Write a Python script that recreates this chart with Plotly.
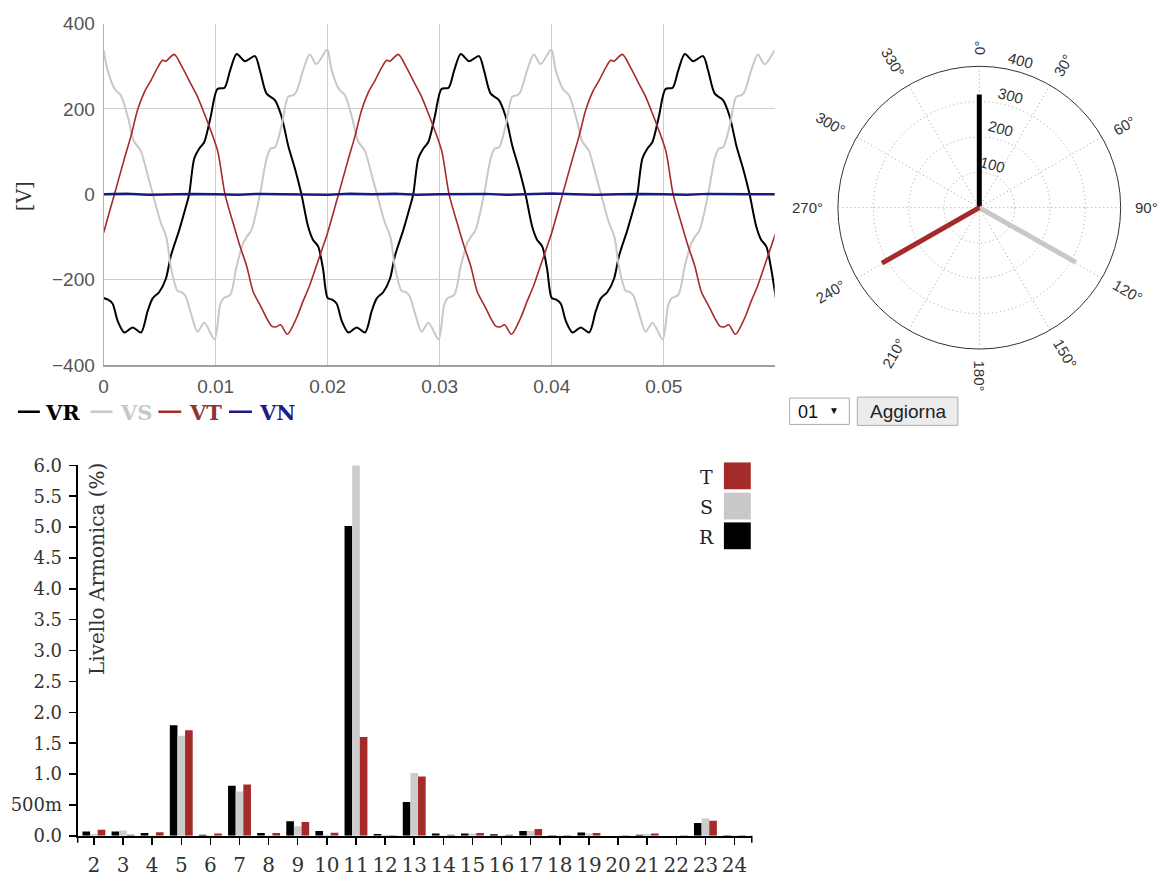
import math
import plotly.graph_objects as go

W, H = 1163, 881


def fx(px):
    return px / W


def fy(py):
    return 1 - py / H


# ---------------- Waveforms: time [ms] and voltage [V] ----------------
VR_T_MS = [0.00, 0.40, 0.80, 1.26, 1.86, 2.60, 3.34, 3.93, 4.38, 4.97, 5.56, 6.00, 6.75, 7.34, 7.64, 8.09, 8.53, 8.98,
           9.57, 10.16, 10.80, 11.29, 11.88, 12.62, 13.51, 13.96, 14.55, 15.29, 15.88, 16.48, 17.07, 17.66, 18.26,
           18.70, 19.15, 19.59,
           20.00, 20.40, 20.80, 21.26, 21.86, 22.60, 23.34, 23.93, 24.38, 24.97, 25.56, 26.00, 26.75, 27.34, 27.64,
           28.09, 28.53, 28.98, 29.57, 30.16, 30.80, 31.29, 31.88, 32.62, 33.51, 33.96, 34.55, 35.29, 35.88, 36.48,
           37.07, 37.66, 38.26, 38.70, 39.15, 39.59,
           40.00, 40.40, 40.80, 41.26, 41.86, 42.60, 43.34, 43.93, 44.38, 44.97, 45.56, 46.00, 46.75, 47.34, 47.64,
           48.09, 48.53, 48.98, 49.57, 50.16, 50.80, 51.29, 51.88, 52.62, 53.51, 53.96, 54.55, 55.29, 55.88, 56.48,
           57.07, 57.66, 58.26, 58.70, 59.15, 59.59, 60.00]
VR_V = [-243, -247, -256, -297, -324, -312, -324, -274, -244, -229, -198, -145, -84, -30, 0, 84, 107, 122,
        183, 247, 250, 290, 329, 312, 324, 290, 236, 221, 183, 114, 61, 0, -76, -107, -122, -175,
        -243, -247, -256, -297, -324, -312, -324, -274, -244, -229, -198, -145, -84, -30, 0, 84, 107, 122,
        183, 247, 250, 290, 329, 312, 324, 290, 236, 221, 183, 114, 61, 0, -76, -107, -122, -175,
        -243, -247, -256, -297, -324, -312, -324, -274, -244, -229, -198, -145, -84, -30, 0, 84, 107, 122,
        183, 247, 250, 290, 329, 312, 324, 290, 236, 221, 183, 114, 61, 0, -76, -107, -122, -175, -243]

VS_T_MS = [0.00, 0.37, 1.00, 1.54, 2.20, 2.70, 3.30, 3.90, 4.40, 5.10, 5.60, 6.00, 6.60, 7.00, 7.30, 7.80, 8.38,
           9.00, 9.90, 10.40, 10.70, 11.30, 11.88, 12.47, 12.80, 13.20, 13.96, 14.55, 14.90, 15.30, 15.88, 16.48,
           16.90, 17.20, 17.80, 18.40, 19.00, 19.88,
           20.00, 20.37, 21.00, 21.54, 22.20, 22.70, 23.30, 23.90, 24.40, 25.10, 25.60, 26.00, 26.60, 27.00, 27.30,
           27.80, 28.38, 29.00, 29.90, 30.40, 30.70, 31.30, 31.88, 32.47, 32.80, 33.20, 33.96, 34.55, 34.90, 35.30,
           35.88, 36.48, 36.90, 37.20, 37.80, 38.40, 39.00, 39.88,
           40.00, 40.37, 41.00, 41.54, 42.20, 42.70, 43.30, 43.90, 44.40, 45.10, 45.60, 46.00, 46.60, 47.00, 47.30,
           47.80, 48.38, 49.00, 49.90, 50.40, 50.70, 51.30, 51.88, 52.47, 52.80, 53.20, 53.96, 54.55, 54.90, 55.30,
           55.88, 56.48, 56.90, 57.20, 57.80, 58.40, 59.00, 59.88]
VS_V = [338, 290, 247, 232, 178, 125, 103, 49, 0, -66, -100, -170, -226, -230, -238, -279, -322,
        -301, -340, -259, -244, -236, -168, -114, -99, -84, 0, 84, 107, 110, 160, 229, 232, 240, 290, 328, 305, 338,
        338, 290, 247, 232, 178, 125, 103, 49, 0, -66, -100, -170, -226, -230, -238, -279, -322,
        -301, -340, -259, -244, -236, -168, -114, -99, -84, 0, 84, 107, 110, 160, 229, 232, 240, 290, 328, 305, 338,
        338, 290, 247, 232, 178, 125, 103, 49, 0, -66, -100, -170, -226, -230, -238, -279, -322,
        -301, -340, -259, -244, -236, -168, -114, -99, -84, 0, 84, 107, 110, 160, 229, 232, 240, 290, 328, 305, 338]

VT_T_MS = [0.00, 0.97, 1.86, 2.45, 3.04, 3.65, 4.23, 4.82, 5.27, 5.56, 6.30, 7.04, 7.79, 8.38, 8.98, 9.70, 10.20,
           10.84, 11.58, 12.18, 12.77, 13.36, 13.96, 14.55, 15.00, 15.40, 15.80, 16.40, 17.22, 17.80, 18.40, 18.99,
           19.59,
           20.00, 20.97, 21.86, 22.45, 23.04, 23.65, 24.23, 24.82, 25.27, 25.56, 26.30, 27.04, 27.79, 28.38, 28.98,
           29.70, 30.20, 30.84, 31.58, 32.18, 32.77, 33.36, 33.96, 34.55, 35.00, 35.40, 35.80, 36.40, 37.22, 37.80,
           38.40, 38.99, 39.59,
           40.00, 40.97, 41.86, 42.45, 43.04, 43.65, 44.23, 44.82, 45.27, 45.56, 46.30, 47.04, 47.79, 48.38, 48.98,
           49.70, 50.20, 50.84, 51.58, 52.18, 52.77, 53.36, 53.96, 54.55, 55.00, 55.40, 55.80, 56.40, 57.22, 57.80,
           58.40, 58.99, 59.59, 60.00]
VT_V = [-90, 0, 84, 137, 198, 240, 267, 297, 314, 312, 328, 297, 259, 229, 190, 140, 100,
        0, -69, -122, -168, -229, -259, -290, -309, -311, -306, -328, -290, -251, -213, -168, -122,
        -90, 0, 84, 137, 198, 240, 267, 297, 314, 312, 328, 297, 259, 229, 190, 140, 100,
        0, -69, -122, -168, -229, -259, -290, -309, -311, -306, -328, -290, -251, -213, -168, -122,
        -90, 0, 84, 137, 198, 240, 267, 297, 314, 312, 328, 297, 259, 229, 190, 140, 100,
        0, -69, -122, -168, -229, -259, -290, -309, -311, -306, -328, -290, -251, -213, -168, -122, -90]

VN_T_MS = [0, 2, 4, 6, 8, 10, 12, 14, 16, 18, 20, 22, 24, 26, 28, 30, 32, 34, 36, 38, 40, 42, 44, 46, 48, 50,
           52, 54, 56, 58, 60]
VN_V = [0, 1, -1, 0, 1, 0, -1, 1, 0, 0, -1, 1, 0, 1, -1, 0, 0, 1, -1, 0, 2, 0, -1, 0, 1, 0, -1, 1, 0, 0, 0]

TIME_TICKS = [0, 0.01, 0.02, 0.03, 0.04, 0.05]
TIME_LABELS = ["0", "0.01", "0.02", "0.03", "0.04", "0.05"]
VOLT_TICKS = [-400, -200, 0, 200, 400]

# ---------------- Phasors ----------------
PHASOR_NAMES = ["VR", "VS", "VT"]
PHASOR_MAG = [320, 314, 317]
PHASOR_ANG = [0, 119.5, 240.3]
RADIAL_TICKS = [100, 200, 300, 400]
ANGLE_TICKS = [0, 30, 60, 90, 120, 150, 180, 210, 240, 270, 300, 330]

# ---------------- Harmonic levels [%] ----------------
HARMONICS = list(range(2, 25))
LEVEL_R = [0.07, 0.07, 0.045, 1.79, 0.02, 0.81, 0.045, 0.235, 0.08, 5.02, 0.03, 0.55, 0.04, 0.04, 0.025,
           0.08, 0.01, 0.055, 0.0, 0.02, 0.0, 0.21, 0.01]
LEVEL_S = [0.03, 0.085, 0.01, 1.62, 0.01, 0.72, 0.01, 0.155, 0.02, 6.0, 0.02, 1.02, 0.01, 0.04, 0.01,
           0.08, 0.01, 0.04, 0.005, 0.03, 0.005, 0.28, 0.01]
LEVEL_T = [0.10, 0.02, 0.06, 1.71, 0.04, 0.83, 0.045, 0.225, 0.05, 1.60, 0.01, 0.96, 0.02, 0.045, 0.02,
           0.11, 0.01, 0.045, 0.01, 0.04, 0.01, 0.245, 0.01]
LEVEL_TICKS = [0.0, 0.5, 1.0, 1.5, 2.0, 2.5, 3.0, 3.5, 4.0, 4.5, 5.0, 5.5, 6.0]
LEVEL_LABELS = ["0.0", "500m", "1.0", "1.5", "2.0", "2.5", "3.0", "3.5", "4.0", "4.5", "5.0", "5.5", "6.0"]

# ---------------- Styles ----------------
C_R, C_S, C_T, C_N = "#000000", "#c8c8c8", "#a52a2a", "#1a1a80"
SANS = "Liberation Sans, Arial, sans-serif"
SERIF = "DejaVu Serif, serif"

fig = go.Figure()

# waveforms
for name, ts, vs, col, lw in [("VR", VR_T_MS, VR_V, C_R, 2.0),
                              ("VS", VS_T_MS, VS_V, C_S, 2.0),
                              ("VT", VT_T_MS, VT_V, C_T, 1.6)]:
    fig.add_trace(go.Scatter(x=[t / 1000 for t in ts], y=vs, name=name, mode="lines",
                             line=dict(color=col, width=lw, shape="spline", smoothing=0.8),
                             xaxis="x", yaxis="y", showlegend=False, hoverinfo="skip"))
fig.add_trace(go.Scatter(x=[t / 1000 for t in VN_T_MS], y=VN_V, name="VN", mode="lines",
                         line=dict(color=C_N, width=2.5), xaxis="x", yaxis="y",
                         showlegend=False, hoverinfo="skip"))

# phasor diagram
for name, mag, ang, col in zip(PHASOR_NAMES, PHASOR_MAG, PHASOR_ANG, [C_R, C_S, C_T]):
    fig.add_trace(go.Scatterpolar(r=[0, mag], theta=[0, ang], mode="lines", name=name,
                                  line=dict(color=col, width=5), showlegend=False, hoverinfo="skip"))

# harmonic bars
for name, vals, col in [("R", LEVEL_R, C_R), ("S", LEVEL_S, "#cccccc"), ("T", LEVEL_T, C_T)]:
    fig.add_trace(go.Bar(x=HARMONICS, y=vals, name=name, marker=dict(color=col, line=dict(width=0)),
                         xaxis="x2", yaxis="y2", showlegend=False, hoverinfo="skip"))

shapes = []
annotations = []


def seg(x0, y0, x1, y1, color, width):
    shapes.append(dict(type="line", xref="paper", yref="paper", x0=fx(x0), y0=fy(y0), x1=fx(x1), y1=fy(y1),
                       line=dict(color=color, width=width), layer="above"))


def rect(x0, y0, x1, y1, fill, line_color, line_width=1):
    shapes.append(dict(type="rect", xref="paper", yref="paper", x0=fx(x0), y0=fy(y0), x1=fx(x1), y1=fy(y1),
                       fillcolor=fill, line=dict(color=line_color, width=line_width), layer="above"))


def text(x, y, s, size, color, family, xanchor="center", yanchor="middle", angle=0):
    annotations.append(dict(x=fx(x), y=fy(y), xref="paper", yref="paper", text=s, showarrow=False,
                            font=dict(family=family, size=size, color=color), xanchor=xanchor,
                            yanchor=yanchor, textangle=angle, borderpad=0))


# waveform legend
for (x0, x1, tx), name, lcol, tcol in zip([(13, 35, 39), (86, 108, 114), (154, 177, 184), (225, 248, 254)],
                                          ["VR", "VS", "VT", "VN"],
                                          [C_R, C_S, C_T, C_N],
                                          ["#000000", "#c8c8c8", "#8e3434", "#1c1c8c"]):
    seg(x0, 411, x1, 411, lcol, 2.5)
    text(tx, 412, "<b>%s</b>" % name, 21, tcol, SERIF, xanchor="left")

# waveform y-axis title
text(19, 190, "[V]", 20, "#333333", SERIF, angle=-90)

# phasor diagram labels
CX, CY, R0 = 978.5, 201.7, 145
for a in ANGLE_TICKS:
    s = "%d°" % a
    w = 8.3 * len(str(a)) + 6
    rc = 157 + w / 2
    x = CX + rc * math.sin(math.radians(a))
    y = CY - rc * math.cos(math.radians(a))
    ang = a - 90 if a <= 180 else a - 270
    text(x, y, s, 15, "#333333", SANS, angle=ang)
for v, (x, y) in zip(RADIAL_TICKS, [(991.5, 157), (1000, 121), (1009.5, 87), (1020, 51)]):
    text(x, y, str(v), 15, "#333333", SANS, angle=15)

# selector and button under the phasor diagram
rect(788, 397, 848, 424, "#ffffff", "#a9a9a9")
text(795, 411, "01", 18, "#111111", SANS, xanchor="left")
text(833, 410, "▼", 10, "#111111", SANS)
rect(856, 396, 957, 425, "#ececec", "#acacac")
text(906.5, 411, "Aggiorna", 19, "#222222", SANS)

# bar chart legend
for (y0, name, col) in [(463, "T", C_T), (494, "S", "#c8c8c8"), (524.5, "R", C_R)]:
    rect(722, y0, 749, y0 + 27.5, col, col, 0)
    text(705, y0 + 14.5, name, 19, "#222222", SERIF)

# bar chart y-axis title
text(93, 463, "Livello Armonica (%)", 20, "#333333", SERIF, yanchor="top", angle=-90)

# outer ticks at the ends of the harmonic axis
seg(73, 846, 73, 853, "#000000", 1.5)
seg(750, 846, 750, 853, "#000000", 1.5)

fig.update_layout(
    width=W, height=H, margin=dict(l=0, r=0, t=0, b=0),
    paper_bgcolor="white", plot_bgcolor="white", showlegend=False,
    barmode="group", bargap=0.214, bargroupgap=0,
    xaxis=dict(domain=[fx(99), fx(773)], range=[0, 0.0599], tickvals=TIME_TICKS, ticktext=TIME_LABELS,
               showgrid=True, gridcolor="#cdcdcd", gridwidth=1, zeroline=False,
               showline=True, linecolor="#a0a0a0", linewidth=2, ticks="", ticklabelstandoff=3,
               tickfont=dict(family=SANS, size=19, color="#555555"), anchor="y", fixedrange=True),
    yaxis=dict(domain=[fy(363), fy(13)], range=[-400, 400], tickvals=VOLT_TICKS,
               showgrid=True, gridcolor="#cdcdcd", gridwidth=1, zeroline=False,
               showline=True, linecolor="#b0b0b0", linewidth=1, ticks="", ticklabelstandoff=4,
               tickfont=dict(family=SANS, size=19, color="#555555"), anchor="x", fixedrange=True),
    xaxis2=dict(domain=[fx(73), fx(750)], range=[1.443, 24.592], tickvals=HARMONICS,
                ticktext=[str(h) for h in HARMONICS], showgrid=False, zeroline=False,
                showline=True, linecolor="#000000", linewidth=2, ticks="outside", ticklen=7,
                tickwidth=1.5, tickcolor="#000000", ticklabelstandoff=3,
                tickfont=dict(family=SERIF, size=20, color="#333333"), anchor="y2", fixedrange=True),
    yaxis2=dict(domain=[fy(846), fy(466)], range=[0, 6.0], tickvals=LEVEL_TICKS, ticktext=LEVEL_LABELS,
                showgrid=False, zeroline=False, showline=True, linecolor="#000000", linewidth=2,
                ticks="outside", ticklen=7, tickwidth=1.5, tickcolor="#000000", ticklabelstandoff=3,
                tickfont=dict(family=SERIF, size=18, color="#333333"), anchor="x2", fixedrange=True),
    polar=dict(
        domain=dict(x=[fx(CX - R0), fx(CX + R0)], y=[fy(CY + R0), fy(CY - R0)]),
        bgcolor="white",
        radialaxis=dict(range=[0, 400], tickvals=RADIAL_TICKS[:-1], showticklabels=False, ticks="",
                        showline=False, gridcolor="#a0a0a0", griddash="1px,3px", gridwidth=1),
        angularaxis=dict(rotation=90, direction="clockwise", tickvals=ANGLE_TICKS, showticklabels=False,
                         ticks="", showline=True, linecolor="#333333", linewidth=1,
                         gridcolor="#a0a0a0", griddash="1px,3px", gridwidth=1),
    ),
    shapes=shapes,
    annotations=annotations,
)

fig.write_html("out.html", config={"displayModeBar": False, "staticPlot": True},
               post_script="document.body.style.margin='0';")
